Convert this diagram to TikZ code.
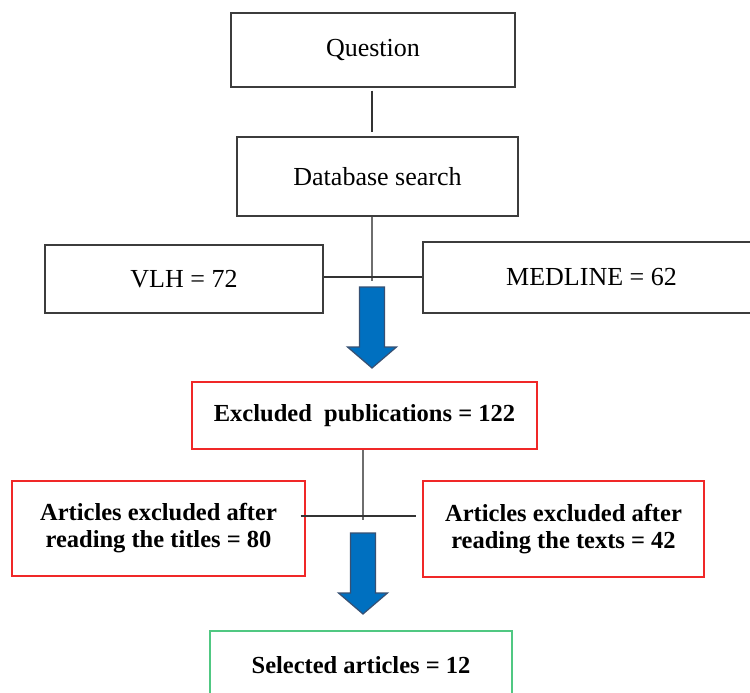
\documentclass[tikz,border=0pt]{standalone}
\usepackage{fontspec}
\setmainfont{Liberation Serif}
\definecolor{boxgray}{RGB}{60,60,60}
\definecolor{boxred}{RGB}{240,40,40}
\definecolor{boxgreen}{RGB}{80,200,130}
\definecolor{arrowblue}{RGB}{0,112,192}
\definecolor{arrowedge}{RGB}{55,80,115}
\definecolor{linegray}{RGB}{110,110,110}
\tikzset{
  plainbox/.style={draw=boxgray, line width=1.4pt, rectangle, inner sep=0pt, align=center,
    font=\fontsize{26}{29}\selectfont},
  redbox/.style={draw=boxred, line width=1.3pt, rectangle, inner sep=0pt, align=center,
    font=\fontsize{24.5}{27}\selectfont\bfseries},
  greenbox/.style={draw=boxgreen, line width=1.4pt, rectangle, inner sep=0pt, align=center,
    font=\fontsize{24.5}{27}\selectfont\bfseries},
  conn/.style={draw=black!80, line width=1.3pt},
  vconn/.style={draw=linegray, line width=1.6pt},
  bluearrow/.style={fill=arrowblue, draw=arrowedge, line width=1.2pt, line join=miter},
  downarrow/.pic={\path[bluearrow] (-12.5,0) -- (12.5,0) -- (12.5,60) -- (24.5,60) -- (0,81)
     -- (-24.5,60) -- (-12.5,60) -- cycle;}
}
\begin{document}
\begin{tikzpicture}[x=1pt,y=-1pt]
\useasboundingbox (0,0) rectangle (750,693);
\clip (0,0) rectangle (750,693);
\fill[white] (0,0) rectangle (750,693);

\node[plainbox, minimum width=284pt, minimum height=74pt] (q) at (373,50) {Question};
\node[plainbox, minimum width=281pt, minimum height=79pt] (db) at (377.5,176.5) {Database search};
\node[plainbox, minimum width=278pt, minimum height=68pt] (vlh) at (184,279) {VLH = 72};
\node[plainbox, minimum width=337pt, minimum height=71pt] (med) at (591.5,277.5) {MEDLINE = 62};

\node[redbox, minimum width=345pt, minimum height=67pt] (excl) at (364.5,415.5) {Excluded \ publications = 122};
\node[redbox, minimum width=293pt, minimum height=95pt] (t80) at (158.5,528.5) {Articles excluded after\\reading the titles = 80};
\node[redbox, minimum width=281pt, minimum height=96pt] (t42) at (563.5,529) {Articles excluded after\\reading the texts = 42};

\node[greenbox, minimum width=302pt, minimum height=68pt] (sel) at (361,665) {Selected articles = 12};

\coordinate (j1) at (372,277);
\coordinate (j2) at (363,516);

\draw[conn, shorten <=3pt, shorten >=4pt] (q.south -| j1) -- (db.north -| j1);
\draw[vconn] (db.south -| j1) -- ([yshift=-4pt]j1);
\draw[conn] (vlh.east |- j1) -- (med.west |- j1);

\draw[vconn] (excl.south -| j2) -- ([yshift=-4pt]j2);
\draw[conn, shorten <=-5pt, shorten >=6pt] (t80.east |- j2) -- (t42.west |- j2);

\pic at (372,287) {downarrow};
\pic at (363,533) {downarrow};
\end{tikzpicture}
\end{document}
